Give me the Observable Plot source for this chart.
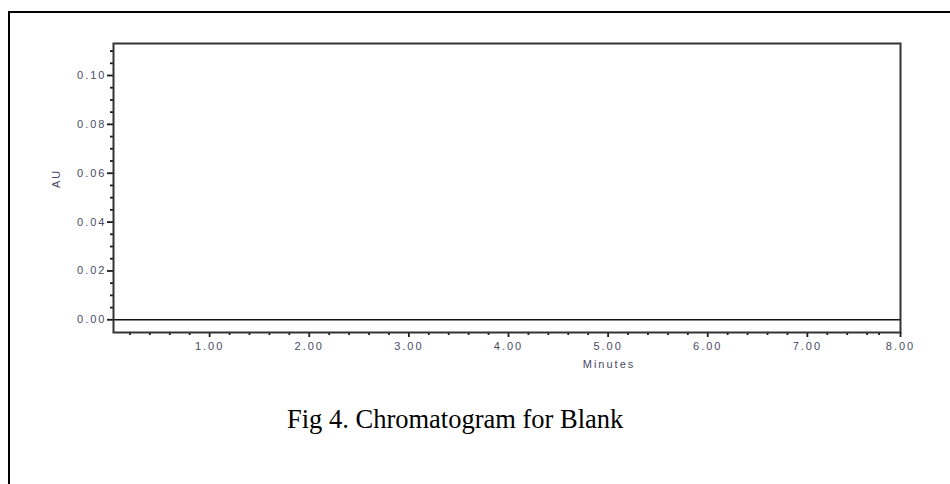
<!DOCTYPE html>
<html><head><meta charset="utf-8">
<script src="https://cdn.jsdelivr.net/npm/d3@7"></script>
<script src="https://cdn.jsdelivr.net/npm/@observablehq/plot@0.6"></script>
<style>
html,body{margin:0;padding:0;background:#fff;width:950px;height:484px;overflow:hidden;}
#wrap{position:relative;width:950px;height:484px;}
#outer{position:absolute;left:8px;top:11px;width:942px;height:473px;border-left:2px solid #000;border-top:2px solid #000;box-sizing:border-box;}
#chart{position:absolute;left:0;top:0;}
#chart svg text{letter-spacing:2px;}
#caption{position:absolute;left:287px;top:406px;font-family:"Liberation Serif","Times New Roman",serif;font-size:26.5px;line-height:1;color:#000;white-space:nowrap;}
</style></head>
<body><div id="wrap"><div id="outer"></div><div id="chart"></div><div id="caption"></div></div>
<script>
const title = "Fig 4. Chromatogram for Blank";
const xLabel = "Minutes";
const yLabel = "AU";

const xTickValues = [1, 2, 3, 4, 5, 6, 7, 7.935];
const xTickLabels = ["1.00", "2.00", "3.00", "4.00", "5.00", "6.00", "7.00", "8.00"];
const xMinorTicks = [0.2, 0.4, 0.6, 0.8, 1.2, 1.4, 1.6, 1.8, 2.2, 2.4, 2.6, 2.8, 3.2, 3.4, 3.6, 3.8,
  4.2, 4.4, 4.6, 4.8, 5.2, 5.4, 5.6, 5.8, 6.2, 6.4, 6.6, 6.8, 7.2, 7.4, 7.6, 7.72];

const yTickValues = [0, 0.02, 0.04, 0.06, 0.08, 0.10];
const yTickLabels = ["0.00", "0.02", "0.04", "0.06", "0.08", "0.10"];
const yMinorTicks = [0.005, 0.01, 0.015, 0.025, 0.03, 0.035, 0.045, 0.05, 0.055, 0.065, 0.07, 0.075,
  0.085, 0.09, 0.095, 0.105, 0.11];

// Blank chromatogram: flat baseline
const times = [0, 8];
const absorbance = [0, 0];

const trace = times.map((t, i) => ({t, au: absorbance[i]}));
const xMap = new Map(xTickValues.map((v, i) => [v, xTickLabels[i]]));
const yMap = new Map(yTickValues.map((v, i) => [v, yTickLabels[i]]));

const labelColor = "#4a4a66";
const tickColor = "#1a1a1a";
const blank = () => "";

const chart = Plot.plot({
  width: 950,
  height: 384,
  marginLeft: 113,
  marginRight: 50,
  marginTop: 43,
  marginBottom: 52,
  style: {fontFamily: "'Liberation Sans', Arial, sans-serif", background: "transparent"},
  x: {domain: [0.035, 7.935]},
  y: {domain: [-0.0052, 0.1131]},
  marks: [
    Plot.axisX(xMinorTicks, {anchor: "bottom", tickSize: 3, tickFormat: blank, label: null, stroke: tickColor, strokeWidth: 1.8}),
    Plot.axisX(xTickValues, {anchor: "bottom", tickSize: 5, tickPadding: 5, tickFormat: d => xMap.get(d), label: null,
      stroke: tickColor, strokeWidth: 1.8, fill: labelColor, fontSize: 11}),
    Plot.axisY(yMinorTicks, {anchor: "left", tickSize: 3, tickFormat: blank, label: null, stroke: tickColor, strokeWidth: 1.8}),
    Plot.axisY(yTickValues, {anchor: "left", tickSize: 6, tickPadding: 1, tickFormat: d => yMap.get(d), label: null,
      stroke: tickColor, strokeWidth: 1.8, fill: labelColor, fontSize: 11}),
    Plot.lineY(trace, {x: "t", y: "au", stroke: "#111", strokeWidth: 1.6, clip: true}),
    Plot.frame({stroke: "#333", strokeWidth: 2}),
    Plot.text([xLabel], {frameAnchor: "bottom", text: d => d, dx: 102, dy: 35, lineAnchor: "bottom", fontSize: 11, fill: labelColor}),
    Plot.text([yLabel], {frameAnchor: "left", text: d => d, dx: -57, rotate: -90, fontSize: 11, fill: labelColor})
  ]
});
document.getElementById("chart").appendChild(chart);
document.getElementById("caption").textContent = title;
</script>
</body></html>
